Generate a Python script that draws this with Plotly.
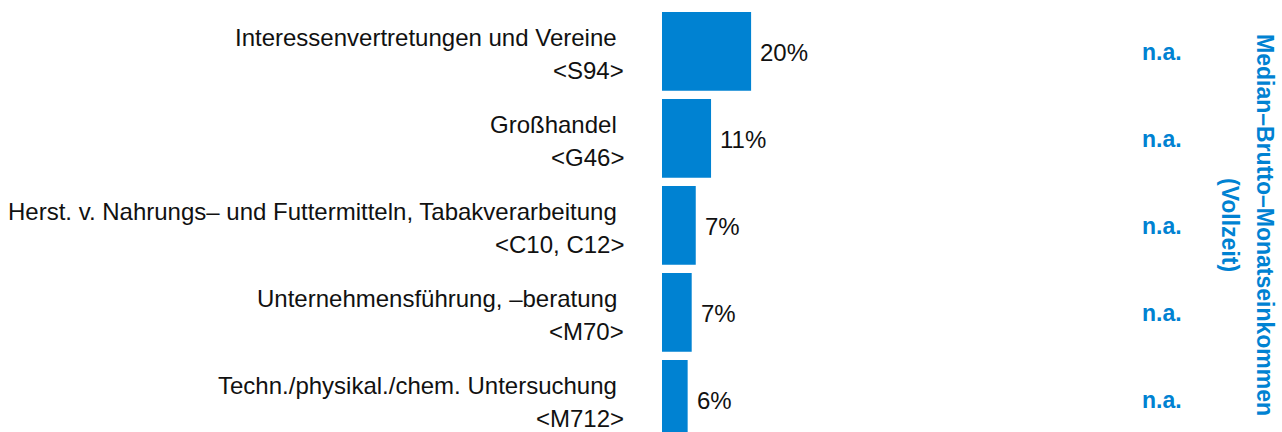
import plotly.graph_objects as go

# ---- data ----
names = [
    "Interessenvertretungen und Vereine",
    "Großhandel",
    "Herst. v. Nahrungs– und Futtermitteln, Tabakverarbeitung",
    "Unternehmensführung, –beratung",
    "Techn./physikal./chem. Untersuchung",
]
codes = ["<S94>", "<G46>", "<C10, C12>", "<M70>", "<M712>"]
shares = [19.8, 10.9, 7.5, 6.6, 5.7]
share_labels = ["20%", "11%", "7%", "7%", "6%"]
median_income = ["n.a.", "n.a.", "n.a.", "n.a.", "n.a."]
title_lines = ["Median–Brutto–Monatseinkommen", "(Vollzeit)"]

BLUE = "#0082D2"
FONT = "Liberation Sans, Arial, sans-serif"
W, H = 1282, 432
ML, MR = 662, 170
PW = W - ML - MR

def px_x(px):
    return (px - ML) / PW

fig = go.Figure()
fig.add_trace(go.Bar(
    x=shares, y=codes, orientation="h",
    marker=dict(color=BLUE, line=dict(width=0)),
    hoverinfo="skip",
))

ann = []
for c, n, v, lab, na in zip(codes, names, shares, share_labels, median_income):
    ann.append(dict(x=v, xref="x", y=c, yref="y", text=lab, showarrow=False,
                    xanchor="left", yanchor="middle", xshift=7, yshift=-1,
                    font=dict(family=FONT, size=24, color="#111111")))
    ann.append(dict(x=px_x(619), xref="paper", y=c, yref="y", text=n, showarrow=False,
                    xanchor="right", yanchor="middle", yshift=14,
                    font=dict(family=FONT, size=24, color="#111111")))
    ann.append(dict(x=px_x(626), xref="paper", y=c, yref="y", text=c.replace("<", "&lt;").replace(">", "&gt;"),
                    showarrow=False, xanchor="right", yanchor="middle", yshift=-19,
                    font=dict(family=FONT, size=24, color="#111111")))
    ann.append(dict(x=px_x(1161.5), xref="paper", y=c, yref="y", text="<b>" + na + "</b>",
                    showarrow=False, xanchor="center", yanchor="middle", yshift=-1,
                    font=dict(family=FONT, size=23, color=BLUE)))

for txt, xpx in zip(title_lines, [1265, 1230]):
    ann.append(dict(x=px_x(xpx), xref="paper", y=1 - 225 / H, yref="paper",
                    text="<b>" + txt + "</b>", textangle=90, showarrow=False,
                    xanchor="center", yanchor="middle",
                    font=dict(family=FONT, size=23, color=BLUE)))

fig.update_layout(
    width=W, height=H,
    margin=dict(l=ML, r=MR, t=0, b=0, pad=0),
    paper_bgcolor="white", plot_bgcolor="white",
    bargap=0.095,
    showlegend=False,
    annotations=ann,
    xaxis=dict(range=[0, 100], showgrid=False, zeroline=False, showticklabels=False,
               showline=False, fixedrange=True),
    yaxis=dict(type="category", categoryorder="array", categoryarray=codes,
               range=[4.376, -0.59], showgrid=False, zeroline=False,
               showticklabels=False, showline=False, fixedrange=True),
)

fig.write_html("out.html", config={"displayModeBar": False},
               post_script="document.body.style.margin='0';document.body.style.padding='0';")
